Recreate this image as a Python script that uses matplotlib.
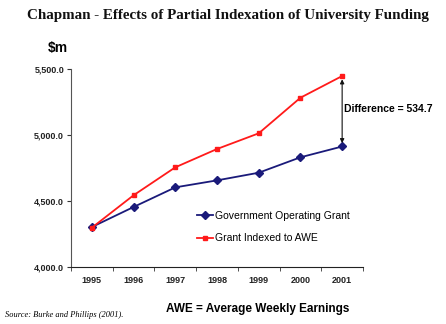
import matplotlib
matplotlib.use("Agg")
import matplotlib.pyplot as plt
from matplotlib.ticker import FuncFormatter, FixedLocator

years = ["1995", "1996", "1997", "1998", "1999", "2000", "2001"]
govt_grant = [4301, 4453, 4602, 4655, 4713, 4830, 4912]
awe_grant = [4296, 4542, 4754, 4893, 5012, 5282, 5446.7]
difference = 534.7

BLUE = "#1a1a7a"
RED = "#ff1a1a"

fig = plt.figure(figsize=(4.46, 3.24), dpi=100, facecolor="white")
ax = fig.add_axes([71 / 446, 1 - 266.7 / 324, (363 - 71) / 446, (266.7 - 69) / 324])

x = list(range(len(years)))
ax.plot(x, govt_grant, color=BLUE, marker="D", markersize=4.5, linewidth=1.3,
        label="Government Operating Grant")
ax.plot(x, awe_grant, color=RED, marker="s", markersize=3.5, linewidth=1.3,
        label="Grant Indexed to AWE")

ax.set_xlim(-0.5, len(years) - 0.5)
ax.set_ylim(4000, 5500)
ax.set_yticks([4000, 4500, 5000, 5500])
ax.yaxis.set_major_formatter(FuncFormatter(lambda v, p: f"{v:,.1f}"))
ax.set_xticks(x)
ax.set_xticklabels(years)
ax.xaxis.set_minor_locator(FixedLocator([i - 0.5 for i in range(len(years) + 1)]))
ax.tick_params(axis="x", which="major", length=0, pad=6.5, labelsize=6.5)
ax.tick_params(axis="x", which="minor", length=3, color="#333333")
ax.tick_params(axis="y", length=3, labelsize=6.5, pad=2, color="#333333")
for lbl in ax.get_xticklabels() + ax.get_yticklabels():
    lbl.set_fontfamily("Liberation Sans")
    lbl.set_fontweight("bold")
    lbl.set_color("#222222")

ax.spines["top"].set_visible(False)
ax.spines["right"].set_visible(False)
ax.spines["left"].set_color("#555555")
ax.spines["bottom"].set_color("#222222")

# arrow showing the gap in the final year
last = len(years) - 1
ax.annotate("", xy=(last, govt_grant[-1] + 25), xytext=(last, awe_grant[-1] - 25),
            arrowprops=dict(arrowstyle="<|-|>", color="#111111", lw=0.8,
                            mutation_scale=6, shrinkA=0, shrinkB=0))
ax.text(last + 0.05, (govt_grant[-1] + awe_grant[-1]) / 2 + 20,
        f"Difference = {difference}", fontsize=7.5, fontweight="bold",
        family="Liberation Sans", va="center", ha="left")

leg = ax.legend(loc="upper left", bbox_to_anchor=(0.4, 0.33), frameon=False,
                handlelength=1.5, handletextpad=0.2, labelspacing=1.2,
                prop={"family": "Liberation Sans", "size": 7.5})

fig.text(228 / 446, 1 - 15 / 324, "Chapman - Effects of Partial Indexation of University Funding",
         ha="center", va="center", fontsize=10.8, fontweight="bold",
         family="Liberation Serif", color="#111111")
fig.text(48 / 446, 1 - 48 / 324, "$m", ha="left", va="center", fontsize=10,
         fontweight="bold", family="Liberation Sans")
fig.text(258 / 446, 1 - 309 / 324, "AWE = Average Weekly Earnings", ha="center",
         va="center", fontsize=8.5, fontweight="bold", family="Liberation Sans")
fig.text(5 / 446, 1 - 315 / 324, "Source: Burke and Phillips (2001).", ha="left",
         va="center", fontsize=6, style="italic", family="Liberation Serif")

fig.savefig("out.png", dpi=100, facecolor="white")
